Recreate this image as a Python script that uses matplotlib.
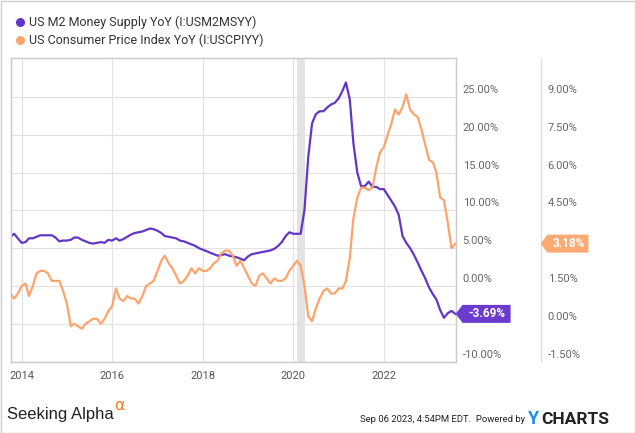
import numpy as np
import pandas as pd
import matplotlib
matplotlib.use("Agg")
import matplotlib.pyplot as plt
from matplotlib.lines import Line2D
from matplotlib.patches import Polygon, Rectangle
from matplotlib.transforms import IdentityTransform

plt.rcParams['font.family'] = ['Roboto', 'DejaVu Sans']

# Monatsende-Daten Sep 2013 .. Jul 2023
dates = pd.date_range("2013-09-30", periods=119, freq="ME")

# US M2 Geldmenge YoY (%)
m2 = [6.5, 6.9, 6.3, 5.7,
      5.8, 6.3, 6.3, 6.5, 6.7, 6.7, 6.7, 6.7, 6.4, 5.9, 6.0, 6.0,
      6.1, 6.4, 6.4, 6.1, 5.9, 5.7, 5.6, 5.7, 5.8, 5.7, 6.1, 6.0,
      6.3, 6.0, 6.2, 6.5, 6.8, 7.0, 7.1, 7.2, 7.4, 7.6, 7.5, 7.3,
      7.0, 6.6, 6.5, 6.4, 6.3, 6.0, 5.9, 5.7, 5.5, 5.3, 5.0, 4.8,
      4.6, 4.4, 4.2, 4.0, 4.1, 4.2, 4.0, 3.9, 3.8, 3.6, 3.4, 3.9,
      4.2, 4.3, 4.4, 4.5, 4.6, 4.7, 4.9, 5.3, 5.8, 6.6, 7.1, 6.9,
      6.9, 6.9, 10.1, 17.0, 21.5, 22.7, 23.1, 23.1, 23.6, 24.0, 24.2, 24.8,
      25.8, 26.9, 24.7, 18.8, 15.0, 13.2, 13.2, 13.8, 13.1, 13.1, 12.8, 12.8,
      12.0, 11.3, 10.5, 9.4, 6.6, 5.7, 5.0, 4.1, 3.1, 2.0, 1.0, -0.2,
      -1.1, -1.8, -3.2, -4.2, -3.6, -3.3, -3.69]

# US Verbraucherpreisindex YoY (%)
cpi = [1.2, 1.0, 1.2, 1.5,
       1.6, 1.1, 1.5, 2.0, 2.1, 2.1, 2.0, 1.7, 1.7, 1.7, 1.3, 0.8,
       -0.1, 0.0, -0.1, -0.2, 0.0, 0.1, 0.2, 0.2, 0.0, 0.2, 0.5, 0.7,
       1.4, 1.0, 0.9, 1.1, 1.0, 1.0, 0.8, 1.1, 1.5, 1.6, 1.7, 2.1,
       2.5, 2.7, 2.4, 2.2, 1.9, 1.6, 1.7, 1.9, 2.2, 2.0, 2.2, 2.1,
       2.1, 2.2, 2.4, 2.5, 2.8, 2.9, 2.9, 2.7, 2.3, 2.5, 2.2, 1.9,
       1.6, 1.5, 1.9, 2.0, 1.8, 1.6, 1.8, 1.7, 1.7, 1.8, 2.1, 2.3,
       2.5, 2.3, 1.5, 0.3, 0.1, 0.6, 1.0, 1.3, 1.4, 1.2, 1.2, 1.4,
       1.4, 1.7, 2.6, 4.2, 5.0, 5.4, 5.4, 5.3, 5.4, 6.2, 6.8, 7.0,
       7.5, 7.9, 8.5, 8.3, 8.6, 9.1, 8.5, 8.3, 8.2, 7.7, 7.1, 6.5,
       6.4, 6.0, 5.0, 4.9, 4.0, 3.0, 3.18]

years = [2014, 2016, 2018, 2020, 2022]
left_ticks = [-10, -5, 0, 5, 10, 15, 20, 25]
right_ticks = [-1.5, 0.0, 1.5, 3.0, 4.5, 6.0, 7.5, 9.0]

name_m2 = "US M2 Money Supply YoY (I:USM2MSYY)"
name_cpi = "US Consumer Price Index YoY (I:USCPIYY)"

c_m2 = "#6236c8"
c_cpi = "#fda46c"
W, H = 635, 433

fig = plt.figure(figsize=(W / 100, H / 100), dpi=100)
ax = fig.add_axes([10.5 / W, 1 - 361.6 / H, (455.6 - 10.5) / W, (361.6 - 58.3) / H])
ax2 = ax.twinx()

lo, hi = -10, 30.1
ax.set_ylim(lo, hi)
ax2.set_ylim(0.3 * (lo + 5), 0.3 * (hi + 5))
ax.set_xlim(pd.Timestamp("2013-10-02"), pd.Timestamp("2023-08-02"))

# Rezession
ax.axvspan(pd.Timestamp("2020-02-01"), pd.Timestamp("2020-04-01"), color="#e3e3e3", lw=0, zorder=0)

ax.plot(dates, m2, color=c_m2, lw=1.6, zorder=3)
ax2.plot(dates, cpi, color=c_cpi, lw=1.6, zorder=3)

ax.set_yticks(left_ticks)
ax.set_xticks([pd.Timestamp(f"{y}-01-01") for y in years])
ax.set_xticklabels([str(y) for y in years])
ax.grid(True, color="#e2e2e2", lw=0.8)
ax.set_axisbelow(True)
ax.tick_params(axis="y", left=False, labelleft=False, right=False)
ax.tick_params(axis="x", length=0, pad=7, labelsize=8, labelcolor="#555555")
ax2.tick_params(axis="y", right=False, labelright=False)
ax2.set_yticks([])

for a in (ax, ax2):
    for s in a.spines.values():
        s.set_color("#cccccc")
        s.set_linewidth(0.9)
ax.spines["bottom"].set_color("#c4c4c4")

x_edge = ax.transAxes.transform((1, 0))[0]
y_m2 = ax.transData.transform((0, m2[-1]))[1]
y_cpi = ax2.transData.transform((0, cpi[-1]))[1]

# Achsenbeschriftungen rechts (die von den Wertmarken verdeckten weglassen)
for v in left_ticks:
    yl = ax.transData.transform((0, v))[1] + 7
    if abs(yl - y_m2) < 14:
        continue
    ax.annotate(f"{v:.2f}%", xy=(1, v), xycoords=ax.get_yaxis_transform(),
                xytext=(7, 7), textcoords="offset pixels", va="center", ha="left",
                fontsize=8, color="#666666")
for v in right_ticks:
    yl = ax2.transData.transform((0, v))[1] + 7
    if abs(yl - y_cpi) < 14:
        continue
    ax2.annotate(f"{v:.2f}%", xy=(1, v), xycoords=ax2.get_yaxis_transform(),
                 xytext=(92, 7), textcoords="offset pixels", va="center", ha="left",
                 fontsize=8, color="#666666")

# zweite Achsenlinie
fig.add_artist(Line2D([540.5 / W] * 2, [1 - 58.3 / H, 1 - 361 / H],
                      transform=fig.transFigure, color="#dddddd", lw=0.9))


def tag(x0, y0, width, text, color):
    verts = [(x0, y0), (x0 + 7, y0 + 9), (x0 + width, y0 + 9),
             (x0 + width, y0 - 9), (x0 + 7, y0 - 9)]
    fig.add_artist(Polygon(verts, closed=True, transform=IdentityTransform(),
                           facecolor=color, edgecolor="none", zorder=10))
    fig.text((x0 + 4 + width / 2) / W, y0 / H, text, ha="center", va="center",
             color="white", fontsize=8.5, fontweight="bold", zorder=11)


tag(x_edge, y_m2, 55, f"{m2[-1]:.2f}%", "#6a3bcc")
tag(540.5, y_cpi, 48, f"{cpi[-1]:.2f}%", "#fdab75")

# Legende
for i, (nm, c) in enumerate([(name_m2, c_m2), (name_cpi, c_cpi)]):
    yy = 1 - (22 + 18 * i) / H
    fig.add_artist(Line2D([20 / W], [yy], marker="o", markersize=5.5, color=c,
                          transform=fig.transFigure, lw=0))
    fig.text(29 / W, yy, nm, va="center", ha="left", fontsize=9, color="#333333")

# Fusszeile
fig.text(7 / W, 1 - 415 / H, "Seeking Alpha", va="center", ha="left", fontsize=12,
         color="#222222", family=["Liberation Sans", "DejaVu Sans"])
fig.text(114 / W, 1 - 405 / H, "α", va="center", ha="left", fontsize=11.5,
         color="#f47b20", family=["DejaVu Sans"])
fig.text(525 / W, 1 - 420 / H, "Sep 06 2023, 4:54PM EDT.  Powered by", va="center", ha="right",
         fontsize=6.8, color="#222222")
fig.text(528 / W, 1 - 419 / H, "Y", va="center", ha="left", fontsize=13,
         fontweight="bold", color="#1f8de0")
fig.text(541 / W, 1 - 419 / H, "CHARTS", va="center", ha="left", fontsize=12.5,
         fontweight="bold", color="#222222")

# Rahmen
fig.add_artist(Rectangle((0.5, 0.5), W - 1, H - 1, transform=IdentityTransform(),
                         fill=False, edgecolor="#cccccc", lw=1))

fig.savefig("out.png", dpi=100)
